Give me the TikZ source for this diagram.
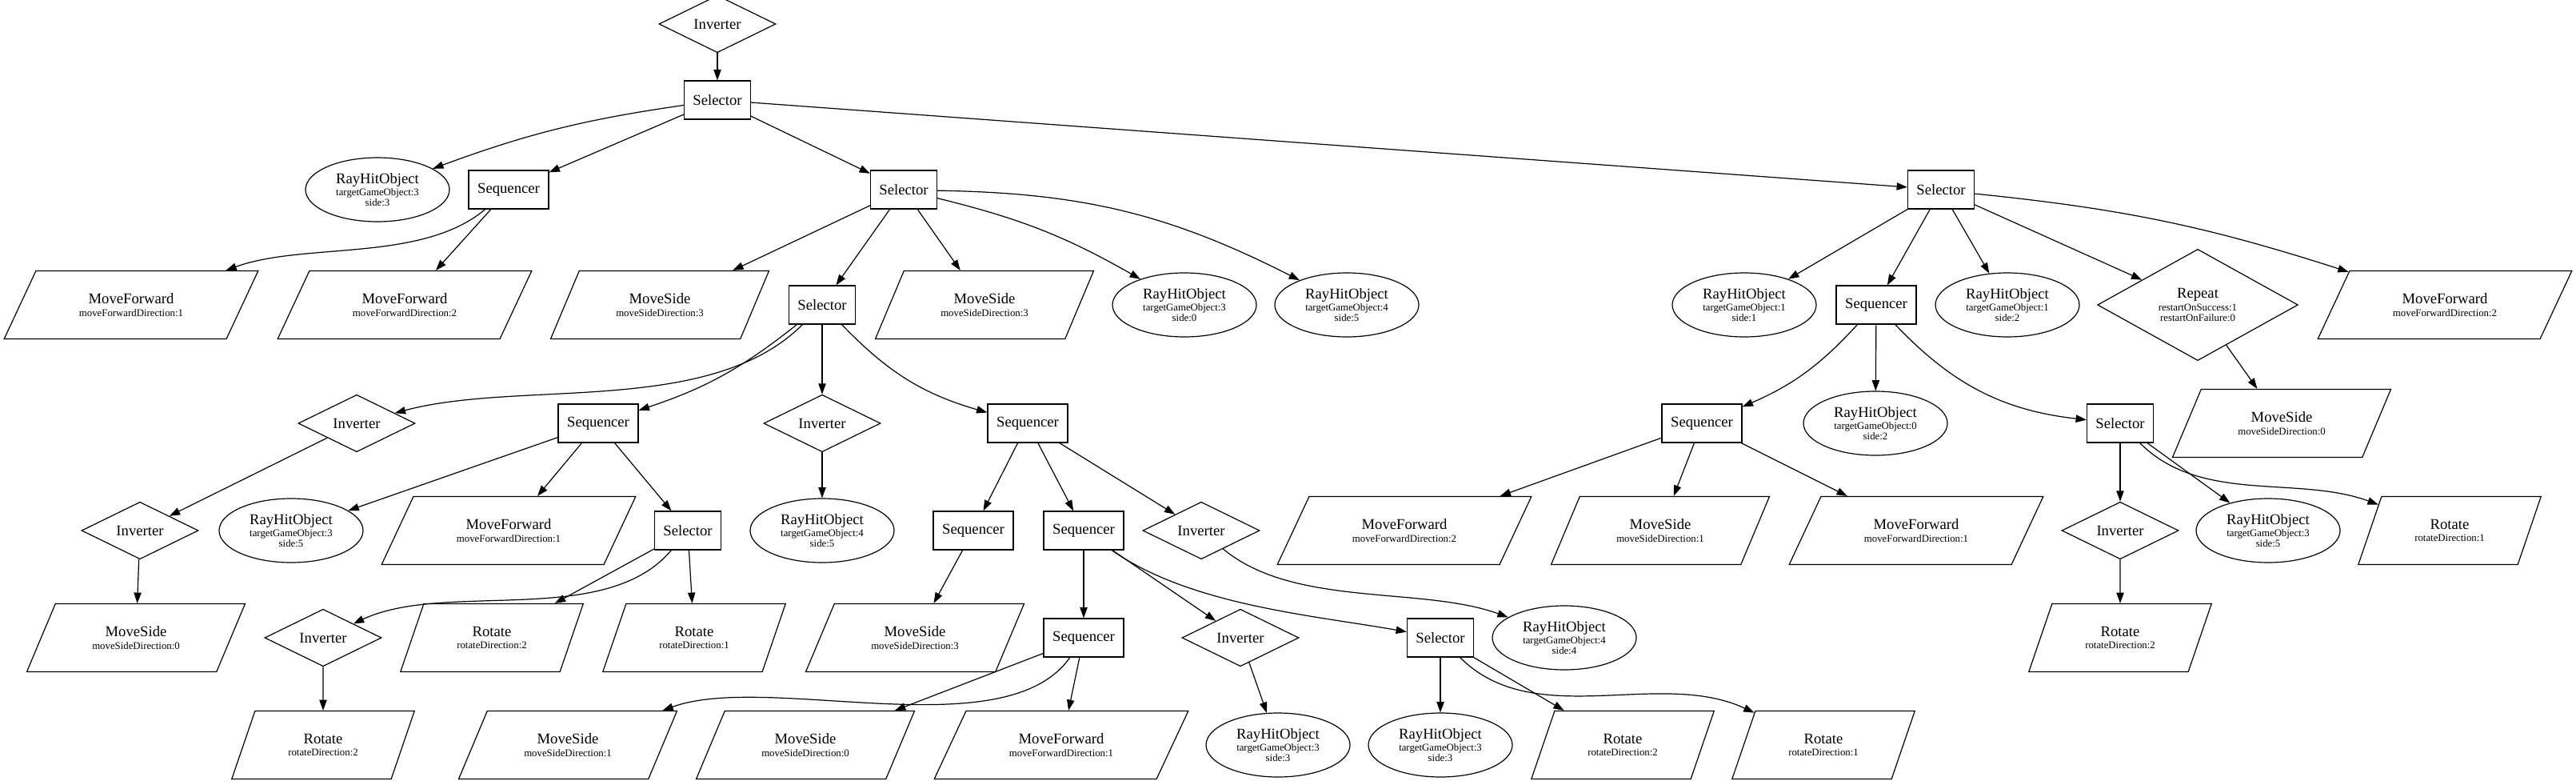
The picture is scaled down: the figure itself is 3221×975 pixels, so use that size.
\documentclass[tikz,border=0pt]{standalone}
\usepackage{fontspec}
\setmainfont{Liberation Serif}
\usetikzlibrary{shapes.geometric,arrows.meta}

\newcommand{\bname}[1]{{\fontsize{14}{14}\selectfont #1}}
\newcommand{\rayhit}[2]{\bname{RayHitObject}\\[2pt]targetGameObject:#1\\side:#2}
\newcommand{\movefwd}[1]{\bname{MoveForward}\\[2pt]moveForwardDirection:#1}
\newcommand{\moveside}[1]{\bname{MoveSide}\\[2pt]moveSideDirection:#1}
\newcommand{\rotnode}[1]{\bname{Rotate}\\[2pt]rotateDirection:#1}

\tikzset{
  base/.style={draw, line width=0.9pt, inner sep=0pt, align=center,
    font=\fontsize{9.6}{9.75}\selectfont},
  sel/.style={base, rectangle, minimum width=62.25pt, minimum height=36pt},
  seqn/.style={base, rectangle, minimum width=75pt, minimum height=36pt},
  dec/.style={base, diamond, minimum width=109.5pt, minimum height=36pt},
  rep/.style={base, diamond, minimum width=188pt, minimum height=84pt},
  cond/.style={base, ellipse, minimum width=135pt, minimum height=60pt},
  act/.style={base, trapezium, trapezium stretches=true, minimum height=63.75pt},
  mfwd/.style={act, minimum width=238.5pt, trapezium left angle=53, trapezium right angle=127},
  mside/.style={act, minimum width=204.75pt, trapezium left angle=56, trapezium right angle=124},
  rot/.style={act, minimum width=172.5pt, trapezium left angle=62, trapezium right angle=118},
  arr/.style={line width=0.9pt, -{Triangle[length=10pt,width=7pt]}}
}

\begin{document}
\begin{tikzpicture}[x=0.75pt, y=0.75pt]
    \useasboundingbox (0,0) rectangle (3221,-975);

    \node[dec] (inv0) at (897,-30) {\bname{Inverter}};
    \node[sel] (sel0) at (897,-125) {\bname{Selector}};

    \node[cond] (rh2) at (472,-237) {\rayhit{3}{3}};
    \node[seqn] (seq2) at (636,-237) {\bname{Sequencer}};
    \node[sel] (sel2) at (1130,-237) {\bname{Selector}};
    \node[sel] (sel2r) at (2427,-237) {\bname{Selector}};

    \node[mfwd] (mf3a) at (164,-381) {\movefwd{1}};
    \node[mfwd] (mf3b) at (506,-381) {\movefwd{2}};
    \node[mside] (ms3a) at (825,-381) {\moveside{3}};
    \node[sel] (sel3) at (1028,-381) {\bname{Selector}};
    \node[mside] (ms3b) at (1231,-381) {\moveside{3}};
    \node[cond] (rh3a) at (1481,-381) {\rayhit{3}{0}};
    \node[cond] (rh3b) at (1684,-381) {\rayhit{4}{5}};
    \node[cond] (rh3c) at (2181,-381) {\rayhit{1}{1}};
    \node[seqn] (seq3) at (2346,-381) {\bname{Sequencer}};
    \node[cond] (rh3d) at (2510,-381) {\rayhit{1}{2}};
    \node[rep] (rep3) at (2748,-381) {\bname{Repeat}\\[2pt]restartOnSuccess:1\\restartOnFailure:0};
    \node[mfwd] (mf3c) at (3057,-381) {\movefwd{2}};

    \node[dec] (inv4a) at (446,-529) {\bname{Inverter}};
    \node[seqn] (seq4a) at (748,-529) {\bname{Sequencer}};
    \node[dec] (inv4b) at (1028,-529) {\bname{Inverter}};
    \node[seqn] (seq4b) at (1285,-529) {\bname{Sequencer}};
    \node[seqn] (seq4c) at (2128,-529) {\bname{Sequencer}};
    \node[cond] (rh4) at (2345,-529) {\rayhit{0}{2}};
    \node[sel] (sel4) at (2651,-529) {\bname{Selector}};
    \node[mside] (ms4) at (2853,-529) {\moveside{0}};

    \node[dec] (inv5a) at (175,-663) {\bname{Inverter}};
    \node[cond] (rh5a) at (364,-663) {\rayhit{3}{5}};
    \node[mfwd] (mf5a) at (636,-663) {\movefwd{1}};
    \node[sel] (sel5a) at (860,-663) {\bname{Selector}};
    \node[cond] (rh5b) at (1028,-663) {\rayhit{4}{5}};
    \node[seqn] (seq5a) at (1217,-663) {\bname{Sequencer}};
    \node[seqn] (seq5b) at (1355,-663) {\bname{Sequencer}};
    \node[dec] (inv5b) at (1502,-663) {\bname{Inverter}};
    \node[mfwd] (mf5b) at (1756,-663) {\movefwd{2}};
    \node[mside] (ms5) at (2076,-663) {\moveside{1}};
    \node[mfwd] (mf5c) at (2396,-663) {\movefwd{1}};
    \node[dec] (inv5c) at (2651,-663) {\bname{Inverter}};
    \node[cond] (rh5c) at (2836,-663) {\rayhit{3}{5}};
    \node[rot] (rot5) at (3063,-663) {\rotnode{1}};

    \node[mside] (ms6a) at (170,-797) {\moveside{0}};
    \node[dec] (inv6a) at (404,-797) {\bname{Inverter}};
    \node[rot] (rot6a) at (615,-797) {\rotnode{2}};
    \node[rot] (rot6b) at (868,-797) {\rotnode{1}};
    \node[mside] (ms6b) at (1144,-797) {\moveside{3}};
    \node[seqn] (seq6) at (1355,-797) {\bname{Sequencer}};
    \node[dec] (inv6b) at (1551,-797) {\bname{Inverter}};
    \node[sel] (sel6) at (1801,-797) {\bname{Selector}};
    \node[cond] (rh6) at (1956,-797) {\rayhit{4}{4}};
    \node[rot] (rot6c) at (2651,-797) {\rotnode{2}};

    \node[rot] (rot7a) at (404,-931) {\rotnode{2}};
    \node[mside] (ms7a) at (710,-931) {\moveside{1}};
    \node[mside] (ms7b) at (1007,-931) {\moveside{0}};
    \node[mfwd] (mf7) at (1327,-931) {\movefwd{1}};
    \node[cond] (rh7a) at (1598,-931) {\rayhit{3}{3}};
    \node[cond] (rh7b) at (1801,-931) {\rayhit{3}{3}};
    \node[rot] (rot7b) at (2029,-931) {\rotnode{2}};
    \node[rot] (rot7c) at (2280,-931) {\rotnode{1}};

    \draw[arr] (inv0) -- (sel0);
    \draw[arr] (sel0) to[bend right=6] (rh2);
    \draw[arr] (sel0) -- (seq2);
    \draw[arr] (sel0) -- (sel2);
    \draw[arr] (sel0) -- (sel2r);
    \draw[arr] (seq2) to[out=-140,in=20,looseness=0.8] (mf3a);
    \draw[arr] (seq2) -- (mf3b);
    \draw[arr] (sel2) -- (ms3a);
    \draw[arr] (sel2) -- (sel3);
    \draw[arr] (sel2) -- (ms3b);
    \draw[arr] (sel2) to[bend left=8] (rh3a);
    \draw[arr] (sel2) to[bend left=13] (rh3b);
    \draw[arr] (sel3) to[out=-135,in=15,looseness=0.8] (inv4a);
    \draw[arr] (sel3) to[bend left=10] (seq4a);
    \draw[arr] (sel3) -- (inv4b);
    \draw[arr] (sel3) to[bend right=15] (seq4b);
    \draw[arr] (inv4a) -- (inv5a);
    \draw[arr] (inv5a) -- (ms6a);
    \draw[arr] (seq4a) -- (rh5a);
    \draw[arr] (seq4a) -- (mf5a);
    \draw[arr] (seq4a) -- (sel5a);
    \draw[arr] (sel5a) to[out=-130,in=25,looseness=0.8] (inv6a);
    \draw[arr] (sel5a) -- (rot6a);
    \draw[arr] (sel5a) -- (rot6b);
    \draw[arr] (inv6a) -- (rot7a);
    \draw[arr] (inv4b) -- (rh5b);
    \draw[arr] (seq4b) -- (seq5a);
    \draw[arr] (seq4b) -- (seq5b);
    \draw[arr] (seq4b) -- (inv5b);
    \draw[arr] (seq5a) -- (ms6b);
    \draw[arr] (seq5b) -- (seq6);
    \draw[arr] (seq5b) -- (inv6b);
    \draw[arr] (seq5b) to[out=-35,in=170,looseness=0.8] (sel6);
    \draw[arr] (inv5b) to[out=-40,in=160,looseness=0.8] (rh6);
    \draw[arr] (seq6) to[out=-125,in=20,looseness=0.7] (ms7a);
    \draw[arr] (seq6) -- (ms7b);
    \draw[arr] (seq6) -- (mf7);
    \draw[arr] (inv6b) -- (rh7a);
    \draw[arr] (sel6) -- (rh7b);
    \draw[arr] (sel6) -- (rot7b);
    \draw[arr] (sel6) to[out=-45,in=155,looseness=0.9] (rot7c);

    \draw[arr] (sel2r) -- (rh3c);
    \draw[arr] (sel2r) -- (seq3);
    \draw[arr] (sel2r) -- (rh3d);
    \draw[arr] (sel2r) -- (rep3);
    \draw[arr] (sel2r) to[bend left=6] (mf3c);
    \draw[arr] (seq3) to[bend left=12] (seq4c);
    \draw[arr] (seq3) -- (rh4);
    \draw[arr] (seq3) to[bend right=20] (sel4);
    \draw[arr] (rep3) -- (ms4);
    \draw[arr] (seq4c) -- (mf5b);
    \draw[arr] (seq4c) -- (ms5);
    \draw[arr] (seq4c) -- (mf5c);
    \draw[arr] (sel4) -- (inv5c);
    \draw[arr] (sel4) -- (rh5c);
    \draw[arr] (sel4) to[out=-45,in=160,looseness=0.9] (rot5);
    \draw[arr] (inv5c) -- (rot6c);
\end{tikzpicture}
\end{document}
